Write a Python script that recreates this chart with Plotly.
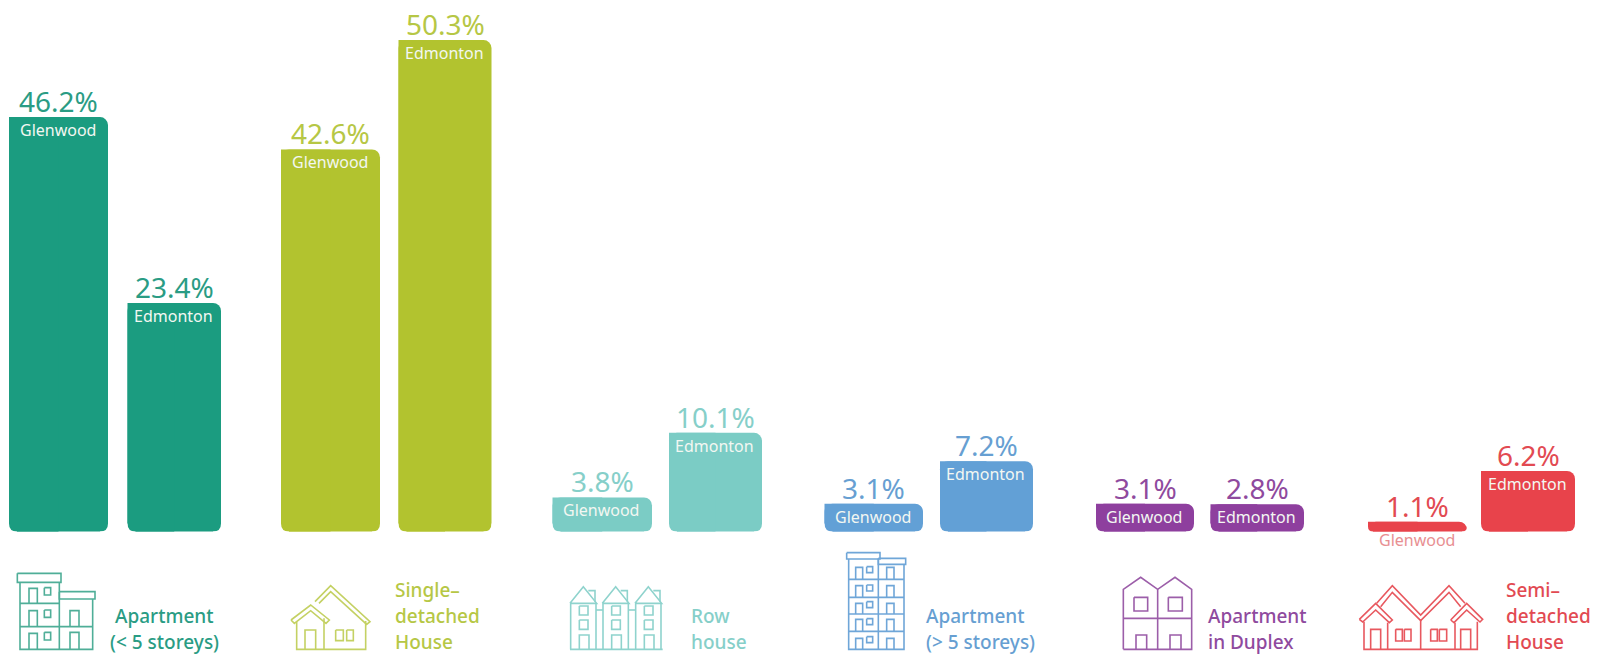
import plotly.graph_objects as go

# Share of dwellings by structural type, Glenwood vs. Edmonton (percent)
dwelling_types = ["Apartment (< 5 storeys)", "Single-detached House", "Row house",
                  "Apartment (> 5 storeys)", "Apartment in Duplex", "Semi-detached House"]
glenwood = [46.2, 42.6, 3.8, 3.1, 3.1, 1.1]
edmonton = [23.4, 50.3, 10.1, 7.2, 2.8, 6.2]
colors = ["#1b9c80", "#b2c32f", "#7bccc5", "#62a0d6", "#8e3f9e", "#e8434b"]
text_colors = ["#2a9c84", "#b6c745", "#86cfc9", "#679fd2", "#8f4a9e", "#e24a52"]
icon_colors = ["#4fae98", "#c4d163", "#8fd3cd", "#6fa6d8", "#9c5ea9", "#e8585f"]
label_lines = [
    ["Apartment", "(< 5 storeys)"],
    ["Single–", "detached", "House"],
    ["Row", "house"],
    ["Apartment", "(> 5 storeys)"],
    ["Apartment", "in Duplex"],
    ["Semi–", "detached", "House"],
]

# Canvas and bar layout, all in pixels
W, H = 1598, 654
BASELINE = 531.5
PX_PER_PCT_GLEN = 8.97
PX_PER_PCT_EDM = 9.77
RADIUS = 8
glen_span = [(9, 108), (281, 380), (552.5, 652), (824.5, 923), (1096, 1194), (1368, 1467)]
edm_span = [(127.5, 221), (398.5, 491.5), (669, 762), (940, 1033), (1210.5, 1304), (1481, 1575)]

# Anchor and alignment of each type label
label_anchor = [(164, "center"), (393, "left"), (689, "left"), (924, "left"), (1206, "left"), (1503.5, "left")]
FONT = "Noto Sans"

fig = go.Figure()
annotations = []
shapes = []


def add_series(name, values, spans, yaxis, yref, scale):
    centers = [(a + b) / 2 for a, b in spans]
    widths = [b - a for a, b in spans]
    fig.add_trace(go.Bar(
        name=name, x=centers, y=values, width=widths, yaxis=yaxis,
        marker=dict(color=colors, cornerradius=RADIUS, line=dict(width=0)),
        showlegend=False, hoverinfo="skip"))
    # Left half stays square at the top
    fig.add_trace(go.Bar(
        name=name, x=[c - w / 4 for c, w in zip(centers, widths)], y=values,
        width=[w / 2 for w in widths], yaxis=yaxis,
        marker=dict(color=colors, line=dict(width=0)),
        showlegend=False, hoverinfo="skip"))
    for i, v in enumerate(values):
        annotations.append(dict(
            x=centers[i], y=v, xref="x", yref=yref, yanchor="bottom", xanchor="center",
            text=f"{v}%", showarrow=False, yshift=-5,
            font=dict(family=FONT, size=28, color=text_colors[i])))
        small = v * scale < 15
        annotations.append(dict(
            x=centers[i] - 1, y=0 if small else v, xref="x", yref=yref, yanchor="middle", xanchor="center",
            text=name, showarrow=False, yshift=-8 if small else -13,
            font=dict(family=FONT, size=16, color="#e88f92" if small else "#f3f7f2")))
        # Round off the bottom corners
        r = min(RADIUS, v * scale / 2)
        a, b = spans[i]
        for x0, sx in ((a, 1), (b, -1)):
            x_s, x_e = x0 - sx, x0 + sx * r
            shapes.append(dict(
                type="path", xref="x", yref="paper", line=dict(width=0), fillcolor="white", layer="above",
                path=(f"M {x_s} {1 - (BASELINE + 1) / H} L {x_e} {1 - (BASELINE + 1) / H} "
                      f"L {x_e} {1 - BASELINE / H} Q {x0} {1 - BASELINE / H} {x0} {1 - (BASELINE - r) / H} "
                      f"L {x_s} {1 - (BASELINE - r) / H} Z")))


add_series("Glenwood", glenwood, glen_span, "y2", "y2", PX_PER_PCT_GLEN)
add_series("Edmonton", edmonton, edm_span, "y", "y", PX_PER_PCT_EDM)

# Type labels underneath the bars
for i, lines in enumerate(label_lines):
    x, align = label_anchor[i]
    for j, line in enumerate(reversed(lines)):
        base = 648.5 - 25.7 * j
        annotations.append(dict(
            x=x, y=1 - (base - 7) / H, xref="x", yref="paper", xanchor=align, yanchor="middle",
            text=line, showarrow=False,
            font=dict(family=FONT, size=19, weight=500, color=text_colors[i])))


# Line-art building icons, drawn at a third of their local units
def stroke(color, ox, oy, *polylines, width=1.6):
    for pts in polylines:
        d = " ".join(("M" if k == 0 else "L") + f" {ox + p[0] / 3} {1 - (oy + p[1] / 3) / H}"
                     for k, p in enumerate(pts))
        shapes.append(dict(type="path", xref="x", yref="paper", path=d,
                           line=dict(color=color, width=width), layer="above"))


def box(x0, y0, x1, y1):
    return [(x0, y0), (x1, y0), (x1, y1), (x0, y1), (x0, y0)]


def door(x0, y0, x1, y1):
    return [(x0, y1), (x0, y0), (x1, y0), (x1, y1)]


# Low-rise apartment
c = icon_colors[0]
stroke(c, 0, 520, box(52, 160, 183, 187), box(178, 215, 285, 237),
       [(60, 187), (60, 388), (278, 388), (278, 237)], [(178, 187), (178, 388)],
       [(60, 250), (178, 250)], [(60, 320), (278, 320)],
       door(87, 205, 112, 250), box(133, 203, 152, 225),
       door(87, 272, 112, 320), box(133, 270, 152, 292), door(210, 272, 237, 320),
       door(87, 340, 112, 388), box(133, 337, 152, 360), door(210, 337, 237, 388))

# Single-detached house
c = icon_colors[1]
stroke(c, 0, 520,
       [(945, 245), (992, 197), (1110, 305), (1100, 313), (992, 215), (957, 250)],
       [(873, 300), (932, 255), (988, 300), (978, 310), (932, 272), (883, 310), (873, 300)],
       [(890, 305), (890, 388), (1097, 388), (1097, 303)], [(972, 295), (972, 388)],
       door(915, 330, 947, 388), box(1007, 330, 1030, 362), box(1040, 330, 1060, 362))

# Row houses
c = icon_colors[2]
for dx in (0, 97, 195):
    stroke(c, 550, 540,
           [(60 + dx, 190), (100 + dx, 140), (140 + dx, 190), (60 + dx, 190)],
           [(62 + dx, 190), (62 + dx, 328)], [(138 + dx, 190), (138 + dx, 328)],
           [(115 + dx, 152), (135 + dx, 152), (135 + dx, 185)],
           box(88 + dx, 198, 114 + dx, 225), box(88 + dx, 240, 114 + dx, 268),
           door(88 + dx, 285, 117 + dx, 328))
stroke(c, 550, 540, [(60, 328), (338, 328)], [(138, 210), (159, 210)], [(235, 210), (257, 210)])

# High-rise apartment
c = icon_colors[3]
stroke(c, 830, 540, box(50, 38, 150, 57), box(145, 55, 227, 73),
       [(56, 57), (56, 328), (222, 328), (222, 73)], [(145, 57), (145, 328)],
       *[[(56, y), (222, y)] for y in (118, 172, 222, 274)])
for door_top, win_top, bottom in ((82, 80, 118), (137, 135, 172), (190, 185, 222), (238, 236, 274), (295, 290, 328)):
    stroke(c, 830, 540, door(77, door_top, 98, bottom), box(110, win_top, 128, win_top + 18),
           door(170, door_top, 192, bottom))

# Duplex
c = icon_colors[4]
stroke(c, 1110, 560,
       [(40, 268), (40, 88), (92, 52), (143, 88), (195, 52), (245, 88), (245, 268), (40, 268)],
       [(143, 88), (143, 268)], [(40, 175), (245, 175)],
       box(72, 112, 113, 153), box(175, 112, 217, 153),
       door(78, 225, 110, 268), door(180, 225, 213, 268))

# Semi-detached house
c = icon_colors[5]
stroke(c, 1340, 560,
       [(110, 130), (157, 77), (242, 165), (327, 77), (375, 130)],
       [(122, 140), (157, 97), (242, 182), (327, 97), (362, 140)],
       [(58, 178), (107, 130), (157, 180), (148, 188), (107, 150), (68, 186), (58, 178)],
       [(332, 180), (380, 130), (428, 178), (420, 186), (380, 150), (342, 188), (332, 180)],
       [(72, 185), (72, 268), (412, 268), (412, 185)], [(242, 178), (242, 268)],
       [(143, 188), (143, 268)], [(345, 188), (345, 268)],
       door(92, 208, 122, 268), door(362, 208, 392, 268),
       box(167, 208, 187, 243), box(193, 208, 213, 243),
       box(272, 208, 292, 243), box(298, 208, 320, 243))

fig.update_layout(
    width=W, height=H, margin=dict(l=0, r=0, t=0, b=0), autosize=False,
    paper_bgcolor="white", plot_bgcolor="white", barmode="overlay",
    xaxis=dict(range=[0, W], visible=False, fixedrange=True),
    yaxis=dict(range=[-(H - BASELINE) / PX_PER_PCT_EDM, BASELINE / PX_PER_PCT_EDM],
               visible=False, fixedrange=True),
    yaxis2=dict(range=[-(H - BASELINE) / PX_PER_PCT_GLEN, BASELINE / PX_PER_PCT_GLEN],
                overlaying="y", visible=False, fixedrange=True),
    annotations=annotations, shapes=shapes, showlegend=False,
)
fig.write_html("out.html", config={"displayModeBar": False})
